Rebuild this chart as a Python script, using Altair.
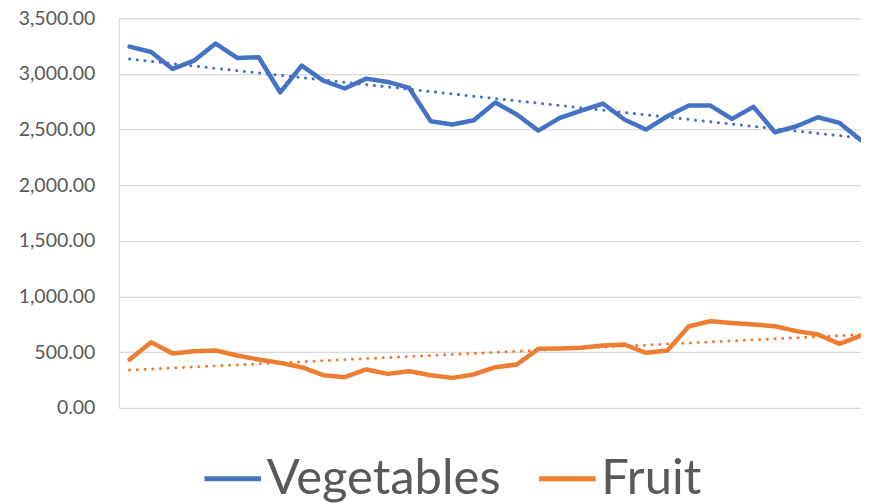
import altair as alt
import pandas as pd

series_names = ["Vegetables", "Fruit"]
vegetables = [3245, 3197, 3045, 3120, 3273, 3144, 3150, 2835, 3075, 2940,
              2869, 2958, 2928, 2874, 2575, 2545, 2584, 2743, 2635, 2491,
              2605, 2671, 2734, 2590, 2500, 2620, 2716, 2716, 2596, 2704,
              2476, 2530, 2611, 2560, 2404]
fruit = [434, 590, 488, 509, 515, 470, 434, 404, 365, 293,
         275, 345, 305, 329, 293, 269, 300, 365, 389, 530,
         533, 539, 560, 569, 494, 515, 733, 778, 763, 749,
         733, 689, 659, 575, 650]
y_ticks = [0, 500, 1000, 1500, 2000, 2500, 3000, 3500]
colors = ["#4472C4", "#ED7D31"]

rows = []
for i, v in enumerate(vegetables):
    rows.append({"idx": i, "value": v, "series": "Vegetables"})
for i, v in enumerate(fruit):
    rows.append({"idx": i, "value": v, "series": "Fruit"})
df = pd.DataFrame(rows)

FONT = "Lato"

x_enc = alt.X("idx:Q", axis=None,
              scale=alt.Scale(domain=[-0.5, len(vegetables) - 1], nice=False, zero=False))
y_enc = alt.Y("value:Q", title=None,
              scale=alt.Scale(domain=[0, 3500], nice=False),
              axis=alt.Axis(values=y_ticks, format=",.2f", ticks=False, tickSize=0,
                            domain=False, labelPadding=24, labelFontSize=19.5,
                            labelColor="#595959", labelFont=FONT,
                            gridColor="#d9d9d9", gridWidth=1.2))
color_scale = alt.Scale(domain=series_names, range=colors)

legend = alt.Legend(title=None, orient="none", legendX=83, legendY=430,
                    direction="horizontal", symbolType="stroke",
                    symbolSize=3200, symbolStrokeWidth=5, symbolDash=[1, 0],
                    labelFontSize=49, labelFont=FONT, labelColor="#595959",
                    labelLimit=600, labelOffset=3, columnPadding=27)

lines = alt.Chart(df).mark_line(strokeWidth=4.5, strokeJoin="round", strokeCap="round").encode(
    x=x_enc, y=y_enc,
    color=alt.Color("series:N", scale=color_scale, sort=series_names, legend=legend),
)

trend = alt.Chart(df).transform_regression(
    "idx", "value", groupby=["series"]
).mark_line(strokeWidth=3, strokeDash=[0.1, 7.6], strokeCap="round").encode(
    x=x_enc, y=y_enc,
    color=alt.Color("series:N", scale=color_scale, sort=series_names, legend=legend),
)

chart = alt.layer(lines, trend).properties(
    width=743, height=390,
    autosize="none",
    padding={"left": 111, "top": 10, "right": 0, "bottom": 98},
).configure_view(stroke=None).configure(font=FONT)

chart.save("out.html", embed_options={"renderer": "svg", "actions": False})
